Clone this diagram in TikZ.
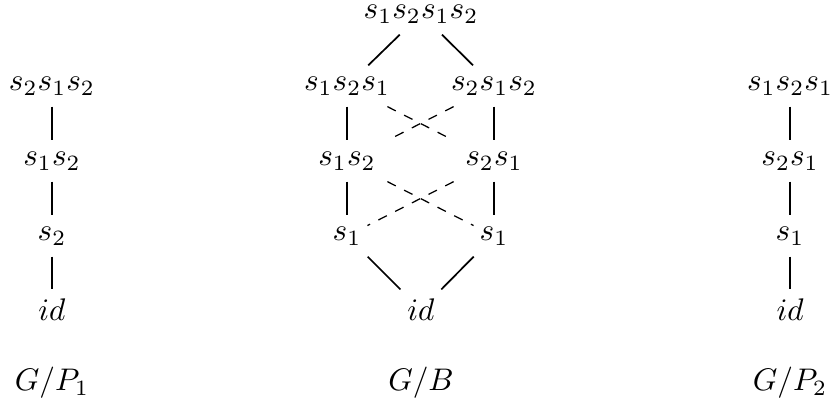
\documentclass[tikz,border=0pt]{standalone}
\begin{document}
\begin{tikzpicture}[x=0.32pt,y=-0.32pt,
  el/.style={inner xsep=4pt, inner ysep=0pt, minimum height=12.8pt},
  edgeline/.style={line width=0.55pt},
  dashline/.style={dashed, line width=0.4pt}]
\useasboundingbox (0,0) rectangle (830,404);
% left column
\node[el] (L3) at (52,86) {$s_2s_1s_2$};
\node[el] (L2) at (52,161) {$s_1s_2$};
\node[el] (L1) at (52,236) {$s_2$};
\node[el] (L0) at (52,310) {$id$};
\node (LG) at (52,383) {$G/P_1$};
\draw[edgeline] (L3) -- (L2);
\draw[edgeline] (L2) -- (L1);
\draw[edgeline] (L1) -- (L0);
% middle
\node[el] (M4) at (421,14) {$s_1s_2s_1s_2$};
\node[el] (M3a) at (347,86) {$s_1s_2s_1$};
\node[el] (M3b) at (494,86) {$s_2s_1s_2$};
\node[el] (M2a) at (347,161) {$s_1s_2$};
\node[el] (M2b) at (494,161) {$s_2s_1$};
\node[el] (M1a) at (347,236) {$s_1$};
\node[el] (M1b) at (494,236) {$s_1$};
\node[el] (M0) at (421,310) {$id$};
\node (MG) at (421,383) {$G/B$};
\draw[edgeline] (M4) -- (M3a);
\draw[edgeline] (M4) -- (M3b);
\draw[edgeline] (M3a) -- (M2a);
\draw[edgeline] (M3b) -- (M2b);
\draw[edgeline] (M2a) -- (M1a);
\draw[edgeline] (M2b) -- (M1b);
\draw[edgeline] (M1a) -- (M0);
\draw[edgeline] (M1b) -- (M0);
\draw[dashline] (M3a) -- (M2b);
\draw[dashline] (M3b) -- (M2a);
\draw[dashline, shorten >=-2.5pt] (M2a) -- (M1b);
\draw[dashline, shorten >=-2.5pt] (M2b) -- (M1a);
% right column
\node[el] (R3) at (790,86) {$s_1s_2s_1$};
\node[el] (R2) at (790,161) {$s_2s_1$};
\node[el] (R1) at (790,236) {$s_1$};
\node[el] (R0) at (790,310) {$id$};
\node (RG) at (790,383) {$G/P_2$};
\draw[edgeline] (R3) -- (R2);
\draw[edgeline] (R2) -- (R1);
\draw[edgeline] (R1) -- (R0);
\end{tikzpicture}
\end{document}
